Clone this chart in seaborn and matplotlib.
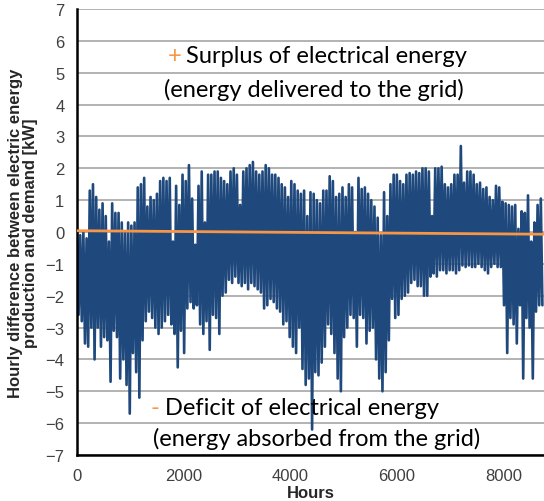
import numpy as np
import pandas as pd
import matplotlib
matplotlib.use("Agg")
import matplotlib.pyplot as plt
import seaborn as sns

# peak surplus (hi) and deepest deficit (lo) read per ~60 h block of the year
hi = [0.1, -0.1, 0.0, -0.2, 1.3, 1.5, 1.1, 0.7, 0.9, 0.5,
      -0.3, 0.9, 0.6, 0.6, 0.3, 0.0, 0.3, 0.2, 0.3, 1.4,
      1.5, 1.7, 0.8, 1.1, 1.0, 1.2, 1.6, 1.7, 1.6, 1.7,
      -0.3, 1.45, 0.85, 1.8, 1.6, 2.1, 1.05, -0.4, 1.45, 1.9,
      0.3, 1.8, 1.8, 1.9, 1.9, 1.7, 1.6, 1.5, 1.9, 2.0,
      1.8, 0.85, 1.9, 2.0, 2.1, 2.2, 1.9, 1.8, 1.9, 2.1,
      2.0, 1.8, 1.8, 1.7, 1.5, 1.4, 1.1, 1.6, 1.5, 1.3,
      1.2, 1.3, 0.5, 1.25, 1.2, 1.0, 0.9, 1.3, 1.3, 1.75,
      1.6, 1.1, 1.2, 1.4, 1.1, 1.5, 1.4, 0.0, 1.7, 1.35,
      1.4, 1.2, 1.0, 0.8, 0.45, -0.1, 1.25, 0.5, 1.5, 1.8,
      1.8, 1.6, 1.5, 1.8, 1.85, 1.8, 1.9, 1.85, 2.0, 2.0,
      1.9, 0.5, 2.0, 2.0, 2.05, 1.5, 1.4, 1.5, 1.8, 1.8,
      2.7, 1.55, 1.9, 1.9, 1.8, 1.5, 1.55, 1.35, 1.4, 1.1,
      1.0, 1.45, 1.4, 0.95, 0.9, 0.85, 0.8, 0.85, 0.1, 0.65,
      0.6, 1.15, -0.3, 0.3, 0.85, 1.05]
lo = [-2.6, -2.8, -3.5, -3.6, -3.0, -4.0, -3.0, -3.6, -3.3, -3.4,
      -4.7, -3.1, -3.3, -4.6, -4.0, -4.8, -5.7, -3.8, -4.4, -5.2,
      -3.4, -2.8, -2.5, -2.7, -3.0, -3.2, -3.0, -2.8, -2.6, -2.9,
      -3.2, -4.25, -3.1, -3.8, -2.4, -2.2, -2.4, -2.3, -2.9, -3.2,
      -2.8, -3.7, -2.6, -2.7, -3.2, -2.0, -1.9, -1.5, -1.6, -1.4,
      -1.6, -1.7, -1.6, -1.8, -1.6, -1.7, -1.8, -1.9, -2.4, -2.3,
      -2.1, -2.2, -2.4, -2.5, -2.9, -2.8, -3.3, -3.6, -3.8, -3.0,
      -4.3, -4.8, -4.6, -6.2, -4.4, -4.5, -4.1, -3.6, -2.9, -3.2,
      -3.8, -4.6, -5.0, -3.3, -3.0, -2.6, -2.7, -3.6, -2.6, -2.7,
      -3.5, -3.1, -3.0, -4.0, -4.6, -5.0, -4.4, -3.4, -2.1, -2.7,
      -2.6, -2.1, -2.0, -1.9, -1.6, -1.5, -1.7, -1.7, -2.0, -2.0,
      -1.4, -1.3, -1.4, -1.2, -1.2, -1.3, -1.2, -1.2, -1.3, -1.2,
      -1.05, -1.1, -1.05, -1.1, -1.1, -1.0, -1.1, -1.2, -1.3, -1.1,
      -1.0, -1.1, -1.1, -2.3, -3.8, -2.7, -2.9, -3.5, -2.3, -4.6,
      -2.7, -3.0, -4.6, -2.5, -2.3, -2.3]

trend_hours = [0, 8760]
trend_kw = [0.04, -0.07]

diff_kw = np.ravel(np.column_stack([hi, lo]))
hours = np.arange(len(diff_kw)) * 30
df = pd.DataFrame({"Hours": hours, "kW": diff_kw})
trend = pd.DataFrame({"Hours": trend_hours, "kW": trend_kw})

sns.set_style("white")
plt.rcParams["font.family"] = ["Liberation Sans", "DejaVu Sans"]

fig = plt.figure(figsize=(5.44, 5.02), dpi=100)
ax = fig.add_axes([0.1415, 0.0916, 0.8585, 0.8885])

sns.lineplot(data=df, x="Hours", y="kW", color="#1F497D", linewidth=1.9, ax=ax, zorder=2)
sns.lineplot(data=trend, x="Hours", y="kW", color="#F79646", linewidth=2.0, ax=ax, zorder=3)

ax.set_xlim(0, 8760)
ax.set_ylim(-7, 7)
ax.set_xticks([0, 2000, 4000, 6000, 8000])
ax.set_yticks(range(-7, 8))
ax.yaxis.grid(True, color="#A6A6A6", linewidth=1.2, zorder=0)
ax.set_axisbelow(True)
for s in ["top", "right"]:
    ax.spines[s].set_visible(False)
for s in ["left", "bottom"]:
    ax.spines[s].set_color("black")
    ax.spines[s].set_linewidth(1.8)
ax.tick_params(axis="both", direction="in", length=4, width=1.2, color="black",
               labelsize=12, labelcolor="#404040", pad=9)

ax.set_xlabel("Hours", fontsize=12, fontweight="bold", labelpad=2)
ax.set_ylabel("Hourly difference between electric energy\nproduction and demand [kW]",
              fontsize=12, fontweight="bold", labelpad=5, linespacing=1.05)

anno = dict(family=["Lato", "DejaVu Sans"], fontsize=17, va="center")
ax.text(1700, 5.53, "+", color="#F79646", ha="left", **anno)
ax.text(2040, 5.53, "Surplus of electrical energy", color="black", ha="left", **anno)
ax.text(4450, 4.5, "(energy delivered to the grid)", color="black", ha="center", **anno)
ax.text(1380, -5.5, "-", color="#F79646", ha="left", **anno)
ax.text(1650, -5.5, "Deficit of electrical energy", color="black", ha="left", **anno)
ax.text(4500, -6.45, "(energy absorbed from the grid)", color="black", ha="center", **anno)

fig.savefig("out.png", dpi=100)
